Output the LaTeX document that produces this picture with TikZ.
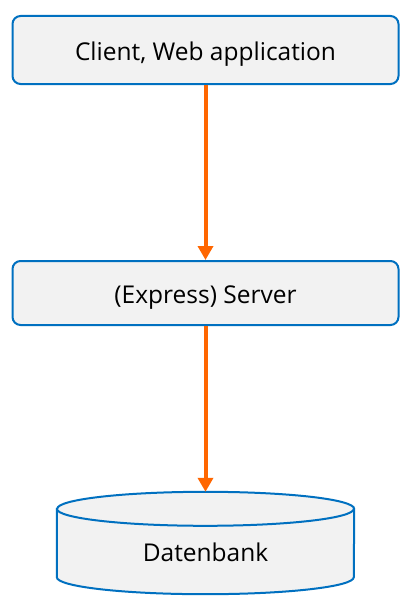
\documentclass[tikz,border=0pt]{standalone}
\usepackage{fontspec}
\setmainfont{Open Sans}
\usepackage{tikz}
\usetikzlibrary{arrows.meta,calc}

\definecolor{tierblue}{HTML}{0070C0}
\definecolor{tierfill}{HTML}{F2F2F2}
\definecolor{floworange}{HTML}{FF6600}

\begin{document}
\begin{tikzpicture}[x=1pt,y=1pt,
  tier/.style={draw=tierblue, fill=tierfill, line width=2pt, rounded corners=8pt,
    minimum width=386pt, minimum height=68pt, inner sep=0pt,
    text height=20pt, text depth=0pt, font=\fontsize{24.5}{29}\selectfont},
  dbline/.style={draw=tierblue, fill=tierfill, line width=2pt},
  flow/.style={draw=floworange, line width=4pt, -{Triangle[length=14pt,width=15pt]}}]
\useasboundingbox (0,0) rectangle (412,-602);
% Tiers
\node[tier] (client) at (205.5,-50) {Client, Web application};
\node[tier, minimum height=64pt] (server) at (205.5,-293) {(Express) Server};
% Database cylinder
\node[minimum width=297pt, minimum height=102pt, inner sep=0pt] (db) at (205.5,-543) {};
\draw[dbline] ($(db.north west)+(0,-17)$) -- ($(db.south west)+(0,17)$)
  arc[start angle=180, end angle=360, x radius=148.5pt, y radius=17pt]
  -- ($(db.north east)+(0,-17)$)
  arc[start angle=0, end angle=180, x radius=148.5pt, y radius=17pt] -- cycle;
\draw[dbline, fill=none] ($(db.north west)+(0,-17)$)
  arc[start angle=180, end angle=360, x radius=148.5pt, y radius=17pt];
\node[inner sep=0pt, text height=20pt, text depth=0pt, font=\fontsize{24.5}{29}\selectfont]
  (dblabel) at ($(db.center)+(0,-8)$) {Datenbank};
% Requests
\draw[flow] (client) -- (server);
\draw[flow] (server) -- (db);
\end{tikzpicture}
\end{document}
